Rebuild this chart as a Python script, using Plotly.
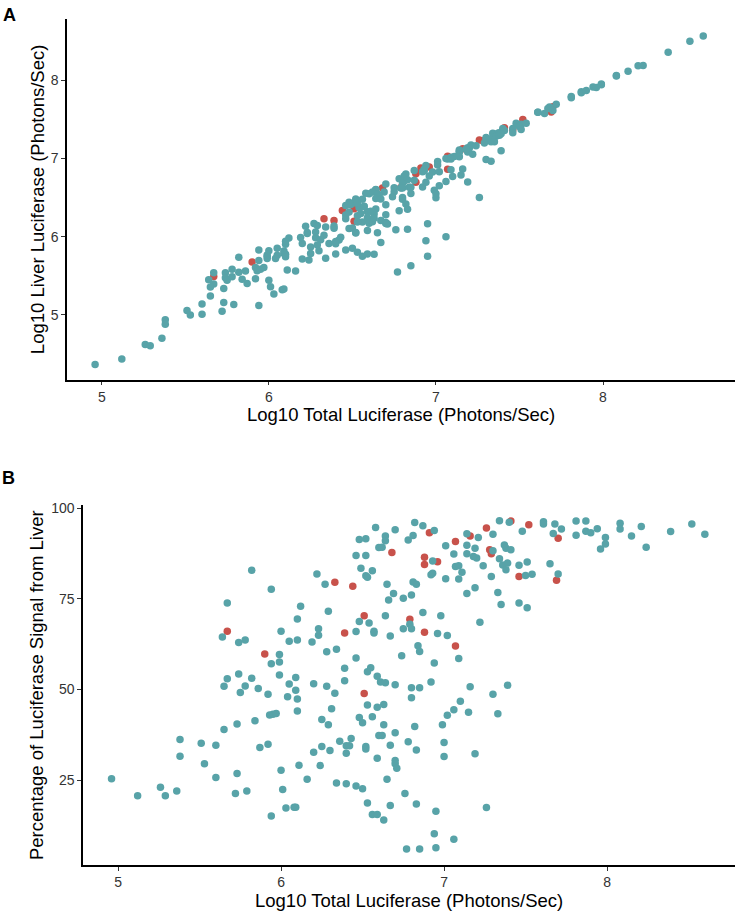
import numpy as np
import plotly.graph_objects as go

# ---- data (Log10 total luciferase, % of signal from liver) ----
total_teal = [
    4.96, 5.12, 5.26, 5.29, 5.36, 5.38, 5.38, 5.51, 5.60, 5.53, 5.60, 5.73, 5.72, 5.79, 5.65, 5.73,
    5.67, 5.64, 5.74, 5.67, 5.65, 5.74, 5.75,
    5.78, 5.82, 5.86, 5.92, 5.94, 5.99, 5.99, 6.05, 6.09, 6.09, 6.04, 6.10, 6.10, 5.93, 5.95, 5.97,
    5.84, 5.87, 5.92, 6.00, 6.01, 6.03, 6.08, 6.09, 5.94, 6.11, 6.16, 6.20, 6.28, 6.33, 6.31, 6.25,
    6.29, 6.39, 6.39, 6.36, 6.43, 6.40, 6.42, 6.40, 6.25, 6.30, 6.20, 6.24, 6.34, 6.40, 6.46, 6.50,
    6.53, 6.56, 6.59, 6.48, 6.50, 6.56, 6.53, 6.59, 6.63, 6.53, 6.55, 6.59, 6.52, 6.52, 6.59, 6.60,
    6.61, 6.64, 6.70, 6.80, 6.85, 6.92, 7.16, 6.80, 7.10, 7.06, 7.02, 7.15, 6.99, 7.00, 7.00, 7.19,
    6.82, 6.70, 6.62, 6.63, 6.67, 6.78, 6.83, 6.70, 6.70, 6.71, 6.65, 6.76, 6.83, 6.67, 6.63, 6.95,
    6.94, 7.06, 6.77, 6.85, 6.95,
    7.39, 7.30, 7.33, 7.26,
    5.82, 5.94, 5.78, 5.99, 6.00, 6.05, 6.10, 6.12, 6.10, 6.22, 6.27, 6.29, 6.23, 6.23, 6.19, 6.28,
    6.34, 6.48, 6.54, 6.46, 6.57, 6.57, 6.46, 6.58, 6.48, 6.52, 6.46, 6.52, 6.49, 6.56, 6.52, 6.53,
    6.60,
    6.82, 6.87, 6.94, 6.70, 6.64, 6.64, 6.62, 6.78, 6.81, 6.93, 6.93, 6.92, 7.01, 7.14, 7.06, 7.14,
    7.14, 7.19, 7.20, 7.07, 7.09, 7.11, 7.09, 7.01, 7.14, 7.19, 6.81, 6.83, 6.69, 6.66, 6.75, 6.80,
    6.65, 6.87, 6.98, 6.64, 6.79, 6.80, 6.75, 6.96, 7.02, 6.67, 7.09, 6.94, 6.84, 6.85, 6.74, 7.22,
    7.34, 7.40, 7.48, 7.30, 7.21, 7.18, 7.30, 7.37, 7.38, 7.41, 7.34, 7.36, 7.38, 7.39, 7.24, 7.46,
    7.51, 7.50, 7.54, 7.29, 7.33, 7.35, 7.46, 7.51, 7.65, 7.70, 7.61, 7.61, 7.68, 7.72, 7.67, 7.81,
    7.87, 7.81, 7.87, 7.90, 7.94, 7.99, 7.99, 7.96, 8.08, 8.08, 8.15, 8.21, 8.24, 8.39, 8.52, 8.60,
]
pct_teal = [
    25.4, 20.7, 23.0, 20.7, 22.0, 36.2, 31.6, 35.2, 34.6, 29.5, 25.7, 26.8, 21.3, 22.0, 39.0, 40.5,
    73.9, 64.5, 63.0, 53.0, 50.9, 54.3, 49.2,
    51.0, 53.1, 50.3, 48.7, 57.1, 57.6, 54.0, 51.5, 53.3, 49.8, 48.0, 47.4, 44.1, 43.0, 43.2, 43.4,
    41.4, 34.0, 34.9, 27.7, 22.4, 17.3, 17.5, 17.5, 15.1, 29.1, 25.2, 51.6, 50.9, 49.0, 44.7, 41.7,
    40.3, 52.4, 55.9, 35.7, 36.5, 34.5, 34.5, 32.4, 34.3, 33.2, 32.7, 29.0, 24.2, 24.0, 23.4, 22.6,
    18.7, 15.5, 15.5, 42.3, 40.8, 42.5, 45.7, 45.1, 45.9, 54.9, 56.0, 53.7, 34.3, 33.6, 31.0, 37.3,
    52.1, 51.9, 51.3, 50.5, 50.5, 52.1, 50.8, 47.7, 46.8, 44.4, 42.9, 43.7, 40.3, 35.4, 31.5, 32.3,
    39.8, 38.1, 37.3, 40.3, 34.6, 35.6, 33.3, 30.4, 29.5, 28.3, 25.2, 21.3, 18.4, 18.0, 14.0, 16.4,
    10.2, 8.7, 6.0, 6.0, 6.3,
    51.2, 48.7, 43.3, 17.4,
    82.9, 77.7, 63.7, 59.7, 66.1, 63.3, 63.7, 73.0, 69.5, 81.9, 79.1, 71.6, 66.8, 65.0, 63.1, 60.4,
    61.1, 68.8, 68.4, 66.0, 66.1, 65.6, 58.7, 94.7, 91.4, 91.6, 87.0, 87.0, 83.5, 82.8, 81.4, 81.0,
    89.2,
    96.1, 95.2, 93.9, 94.1, 92.4, 91.1, 89.3, 91.3, 92.5, 85.5, 82.1, 81.7, 89.7, 93.0, 87.4, 89.8,
    87.5, 89.0, 86.3, 84.0, 84.2, 82.4, 80.5, 80.6, 76.5, 78.1, 79.7, 79.1, 76.5, 74.7, 75.2, 76.1,
    79.1, 71.3, 70.4, 70.4, 68.0, 66.8, 66.8, 65.5, 64.9, 64.8, 58.6, 57.3, 62.1, 60.5, 59.3, 68.6,
    96.6, 96.2, 93.7, 92.9, 92.0, 86.7, 88.3, 89.9, 89.0, 88.6, 86.1, 84.4, 83.1, 84.9, 84.2, 84.3,
    85.2, 81.5, 81.8, 81.2, 76.8, 73.5, 73.9, 72.6, 84.7, 81.9, 96.3, 95.7, 95.7, 94.3, 93.1, 96.5,
    96.5, 92.6, 93.7, 93.3, 94.4, 92.0, 90.2, 88.8, 95.9, 94.3, 92.4, 95.0, 89.3, 93.6, 95.7, 92.9,
]
total_red = [5.67, 5.90, 6.33, 6.44, 6.51, 6.39, 6.51, 6.91, 6.68, 6.88, 6.88, 6.96, 7.07,
             7.16, 6.79, 6.88, 7.07, 7.41, 7.52, 7.26, 7.28, 7.29, 7.46, 7.69, 7.70]
pct_red = [66.1, 59.8, 79.6, 78.5, 70.4, 65.6, 48.9, 93.3, 87.8, 86.5, 84.5, 85.3, 90.9,
           92.4, 69.4, 65.8, 62.0, 96.5, 95.5, 94.6, 88.6, 87.5, 81.2, 80.2, 91.8]

x_ticks = [5, 6, 7, 8]
yA_ticks = [5, 6, 7, 8]
yB_ticks = [25, 50, 75, 100]

# liver signal (log10) = total + log10(fraction from liver)
liver_teal = (np.array(total_teal) + np.log10(np.array(pct_teal) / 100)).tolist()
liver_red = (np.array(total_red) + np.log10(np.array(pct_red) / 100)).tolist()

TEAL = "#58A3A8"
RED = "#C8524B"
W, H = 741, 915
FONT = "Liberation Sans, Arial, sans-serif"

fig = go.Figure()
mk = dict(size=7.5, line=dict(width=0))
fig.add_trace(go.Scatter(x=total_red, y=liver_red, mode="markers", marker=dict(color=RED, **mk),
                         xaxis="x", yaxis="y", showlegend=False))
fig.add_trace(go.Scatter(x=total_teal, y=liver_teal, mode="markers", marker=dict(color=TEAL, **mk),
                         xaxis="x", yaxis="y", showlegend=False))
fig.add_trace(go.Scatter(x=total_red, y=pct_red, mode="markers", marker=dict(color=RED, **mk),
                         xaxis="x2", yaxis="y2", showlegend=False))
fig.add_trace(go.Scatter(x=total_teal, y=pct_teal, mode="markers", marker=dict(color=TEAL, **mk),
                         xaxis="x2", yaxis="y2", showlegend=False))

def px_x(p):
    return p / W

def px_y(p):
    return 1 - p / H

ax_common = dict(showgrid=False, zeroline=False, showline=True, linecolor="black", linewidth=1.6,
                 ticks="outside", ticklen=3.5, tickwidth=1.1, tickcolor="#333333",
                 tickfont=dict(family=FONT, size=14, color="#333333"), fixedrange=True)

fig.update_layout(
    width=W, height=H, margin=dict(l=0, r=0, t=0, b=0),
    paper_bgcolor="white", plot_bgcolor="white",
    xaxis=dict(domain=[px_x(66.7), px_x(735)], range=[4.79, 8.79], tickvals=x_ticks,
               anchor="y", **ax_common),
    yaxis=dict(domain=[px_y(377.7), px_y(15)], range=[4.167, 8.786], tickvals=yA_ticks,
               anchor="x", **ax_common),
    xaxis2=dict(domain=[px_x(82.7), px_x(735)], range=[4.783, 8.785], tickvals=x_ticks,
                anchor="y2", **ax_common),
    yaxis2=dict(domain=[px_y(865), px_y(503)], range=[1.5, 101.0], tickvals=yB_ticks,
                anchor="x2", **ax_common),
)

tf = dict(family=FONT, size=18.5, color="black")
ann = [
    dict(text="<b>A</b>", x=px_x(9), y=px_y(11), font=dict(family=FONT, size=18, color="black")),
    dict(text="<b>B</b>", x=px_x(8.5), y=px_y(476), font=dict(family=FONT, size=18, color="black")),
    dict(text="Log10 Total Luciferase (Photons/Sec)", x=px_x(400.5), y=px_y(412), font=tf),
    dict(text="Log10 Total Luciferase (Photons/Sec)", x=px_x(409), y=px_y(900.5), font=tf),
    dict(text="Log10 Liver Luciferase (Photons/Sec)", x=px_x(37), y=px_y(196), font=tf, textangle=-90),
    dict(text="Percentage of Luciferase Signal from Liver", x=px_x(36), y=px_y(684), font=tf,
         textangle=-90),
]
for a in ann:
    a.update(xref="paper", yref="paper", showarrow=False, xanchor="center", yanchor="middle")
fig.update_layout(annotations=ann)

fig.write_html("out.html", config={"displayModeBar": False},
               post_script="document.body.style.margin='0px';document.body.style.overflow='hidden';")
